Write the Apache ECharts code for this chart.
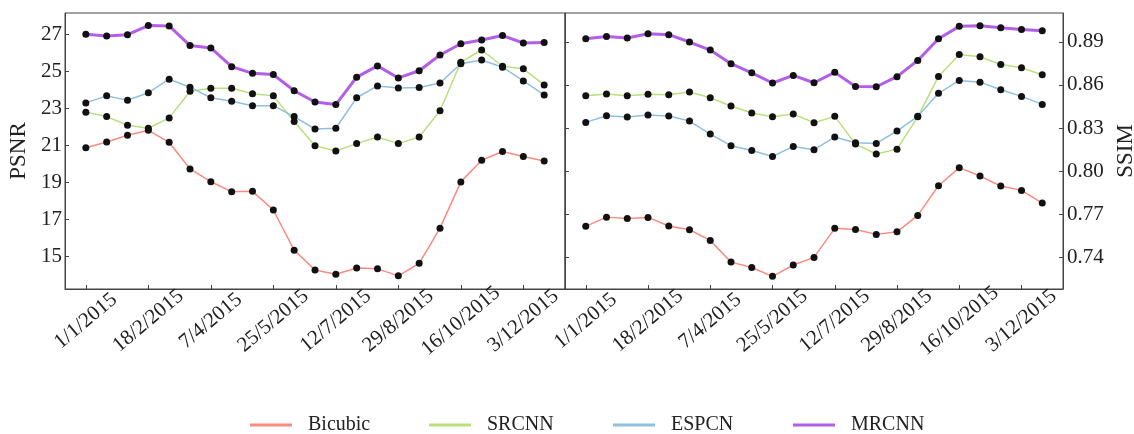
<!DOCTYPE html>
<html>
<head>
<meta charset="utf-8">
<script src="https://cdn.jsdelivr.net/npm/echarts@6/dist/echarts.min.js"></script>
<style>
  html,body{margin:0;padding:0;background:#fff;}
  #box{width:1134px;height:434px;}
</style>
</head>
<body>
<div id="box"></div>
<script>
// dates, one point every 16 days
var dates = ['1/1/2015','17/1/2015','2/2/2015','18/2/2015','6/3/2015','22/3/2015','7/4/2015','23/4/2015',
  '9/5/2015','25/5/2015','10/6/2015','26/6/2015','12/7/2015','28/7/2015','13/8/2015','29/8/2015',
  '14/9/2015','30/9/2015','16/10/2015','1/11/2015','17/11/2015','3/12/2015','19/12/2015'];
var tickIdx = [0,3,6,9,12,15,18,21];

var methods = ['Bicubic','SRCNN','ESPCN','MRCNN'];
var colors = ['#f98b80','#b9e07c','#8fc0e0','#b35ee6'];

// PSNR
var psnrBicubic = [20.89,21.20,21.56,21.83,21.18,19.74,19.05,18.51,18.53,17.52,15.35,14.28,14.05,14.39,14.34,13.96,14.64,16.54,19.04,20.21,20.68,20.41,20.17];
var psnrSRCNN   = [22.81,22.57,22.10,21.94,22.50,23.94,24.10,24.10,23.81,23.69,22.30,21.00,20.71,21.11,21.47,21.11,21.47,22.89,25.51,26.17,25.29,25.15,24.28];
var psnrESPCN   = [23.31,23.69,23.45,23.86,24.59,24.16,23.59,23.40,23.16,23.16,22.57,21.90,21.94,23.59,24.23,24.12,24.14,24.39,25.43,25.63,25.24,24.50,23.74];
var psnrMRCNN   = [27.02,26.93,27.00,27.49,27.47,26.41,26.28,25.27,24.91,24.84,23.97,23.36,23.22,24.70,25.31,24.66,25.05,25.90,26.51,26.71,26.95,26.55,26.57];

// SSIM
var ssimBicubic = [0.7616,0.7680,0.7671,0.7678,0.7618,0.7592,0.7518,0.7367,0.7330,0.7268,0.7347,0.7400,0.7602,0.7594,0.7560,0.7578,0.7692,0.7898,0.8024,0.7966,0.7896,0.7866,0.7778];
var ssimSRCNN   = [0.8524,0.8536,0.8524,0.8534,0.8531,0.8550,0.8510,0.8453,0.8404,0.8378,0.8397,0.8337,0.8381,0.8188,0.8119,0.8153,0.8378,0.8659,0.8812,0.8796,0.8742,0.8719,0.8670];
var ssimESPCN   = [0.8339,0.8385,0.8376,0.8390,0.8383,0.8348,0.8258,0.8177,0.8144,0.8102,0.8172,0.8149,0.8237,0.8197,0.8193,0.8279,0.8381,0.8541,0.8631,0.8619,0.8566,0.8520,0.8464];
var ssimMRCNN   = [0.8921,0.8937,0.8926,0.8956,0.8949,0.8898,0.8842,0.8747,0.8684,0.8613,0.8666,0.8615,0.8687,0.8588,0.8587,0.8657,0.8770,0.8921,0.9007,0.9011,0.8997,0.8986,0.8977];

var psnrTicks = [15,17,19,21,23,25,27];
var ssimTicks = [0.74,0.77,0.80,0.83,0.86,0.89];

var psnrAll = [psnrBicubic,psnrSRCNN,psnrESPCN,psnrMRCNN];
var ssimAll = [ssimBicubic,ssimSRCNN,ssimESPCN,ssimMRCNN];

var font = 'Liberation Serif';
var txt = '#222';
var axCol = '#444';

var pairs = function(arr){
  return arr.map(function(v,i){ return [i,v]; });
};

var xAx = function(gi){
  return {
    type:'value', gridIndex:gi, min:-1, max:23,
    splitLine:{show:false},
    axisLine:{show:true,onZero:false,lineStyle:{color:axCol}},
    axisTick:{show:true,inside:true,length:4,customValues:tickIdx,lineStyle:{color:axCol}},
    axisLabel:{customValues:tickIdx,rotate:40,align:'center',verticalAlign:'middle',margin:32,
      fontFamily:font,fontSize:21,color:txt,
      formatter:function(v){ return dates[v]; }}
  };
};

var series = [];
methods.forEach(function(m,k){
  [psnrAll[k], ssimAll[k]].forEach(function(arr,g){
    series.push({
      name:m, type:'line', xAxisIndex:g, yAxisIndex:g,
      data:pairs(arr),
      symbol:'circle', symbolSize:7,
      itemStyle:{color:'#111'},
      lineStyle:{color:colors[k],width:m=='MRCNN'?3:1.5},
      z: m=='MRCNN'?5:3,
      animation:false
    });
  });
});

var legX = [245,424,608,788];
var legends = methods.map(function(m,k){
  return {
    left:legX[k], top:410,
    data:[{name:m,icon:'rect',itemStyle:{color:colors[k]}}],
    itemWidth:42, itemHeight:3,
    textStyle:{fontFamily:font,fontSize:20,color:txt,padding:[0,0,0,11]}
  };
});

var option = {
  backgroundColor:'#fff',
  animation:false,
  legend:legends,
  grid:[
    {left:65, top:13, width:500, height:276, show:true, borderColor:axCol, borderWidth:1, outerBoundsMode:'none', containLabel:false},
    {left:565, top:13, width:498, height:276, show:true, borderColor:axCol, borderWidth:1, outerBoundsMode:'none', containLabel:false}
  ],
  xAxis:[xAx(0), xAx(1)],
  yAxis:[
    {
      type:'value', gridIndex:0, min:13.25, max:28.17,
      name:'PSNR', nameLocation:'middle', nameGap:35,
      nameTextStyle:{fontFamily:font,fontSize:23,color:txt},
      splitLine:{show:false},
      axisLine:{show:true,onZero:false,lineStyle:{color:axCol}},
      axisTick:{show:true,inside:true,length:4,customValues:psnrTicks,lineStyle:{color:axCol}},
      axisLabel:{customValues:psnrTicks,margin:3,fontFamily:font,fontSize:21,color:txt}
    },
    {
      type:'value', gridIndex:1, min:0.718, max:0.910, position:'right',
      name:'SSIM', nameLocation:'middle', nameGap:51,
      nameTextStyle:{fontFamily:font,fontSize:23,color:txt},
      splitLine:{show:false},
      axisLine:{show:true,onZero:false,lineStyle:{color:axCol}},
      axisTick:{show:true,inside:true,length:4,customValues:ssimTicks,lineStyle:{color:axCol}},
      axisLabel:{customValues:ssimTicks,margin:4,fontFamily:font,fontSize:21,color:txt,
        formatter:function(v){ return v.toFixed(2); }}
    },
    {
      // inner ticks on the shared border, no labels
      type:'value', gridIndex:1, min:0.718, max:0.910, position:'left',
      splitLine:{show:false},
      axisLine:{show:true,onZero:false,lineStyle:{color:axCol}},
      axisTick:{show:true,inside:true,length:4,customValues:ssimTicks,lineStyle:{color:axCol}},
      axisLabel:{show:false}
    }
  ],
  series:series
};

var mychart = echarts.init(document.getElementById('box'));
mychart.setOption(option);
</script>
</body>
</html>
